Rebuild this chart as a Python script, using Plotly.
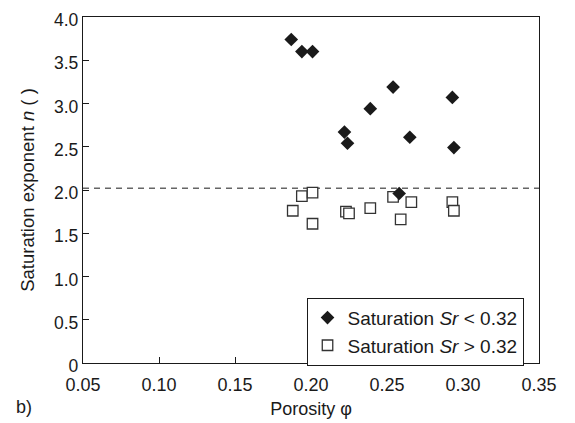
import plotly.graph_objects as go

# Porosity / saturation-exponent pairs, split by water saturation
porosity_low_sr = [0.187, 0.194, 0.201, 0.222, 0.224, 0.239, 0.254, 0.258, 0.265, 0.293, 0.294]
n_low_sr = [3.74, 3.60, 3.60, 2.67, 2.54, 2.94, 3.19, 1.96, 2.61, 3.07, 2.49]

porosity_high_sr = [0.188, 0.194, 0.201, 0.201, 0.223, 0.225, 0.239, 0.254, 0.259, 0.266, 0.293, 0.294]
n_high_sr = [1.76, 1.93, 1.97, 1.61, 1.75, 1.73, 1.79, 1.92, 1.66, 1.86, 1.86, 1.76]

n_reference = 2.02

x_ticks = [0.05, 0.10, 0.15, 0.20, 0.25, 0.30, 0.35]
y_ticks = [0, 0.5, 1.0, 1.5, 2.0, 2.5, 3.0, 3.5, 4.0]
y_tick_text = ["0", "0.5", "1.0", "1.5", "2.0", "2.5", "3.0", "3.5", "4.0"]

FONT = "Liberation Sans, Arial, Helvetica, sans-serif"
INK = "#1a1a1a"

fig = go.Figure()

fig.add_trace(go.Scatter(
    x=porosity_high_sr, y=n_high_sr, mode="markers",
    name="Saturation <i>Sr</i> > 0.32", legendrank=2,
    marker=dict(symbol="square", size=10.5, color="white",
                line=dict(color="#333333", width=1.3)),
))
fig.add_trace(go.Scatter(
    x=porosity_low_sr, y=n_low_sr, mode="markers",
    name="Saturation <i>Sr</i> < 0.32", legendrank=1,
    marker=dict(symbol="diamond", size=10.5, color=INK, line=dict(width=0)),
))

fig.add_shape(type="line", xref="paper", x0=0, x1=1, yref="y",
              y0=n_reference, y1=n_reference,
              line=dict(color="#666666", width=1.5, dash="6px,5px"), layer="below")

fig.add_annotation(text="b)", xref="paper", yref="paper", x=-0.152, y=-0.128,
                   xanchor="left", yanchor="middle", showarrow=False,
                   font=dict(family=FONT, size=18, color=INK))

axis_common = dict(
    showgrid=False, zeroline=False, showline=True, linecolor=INK, linewidth=1.3,
    mirror=True, ticks="inside", ticklen=6, tickwidth=1, tickcolor=INK,
    automargin=False,
)

fig.update_layout(
    width=575, height=423,
    margin=dict(l=83, r=36, t=17, b=60),
    paper_bgcolor="white", plot_bgcolor="white",
    font=dict(family=FONT, size=18, color=INK),
    xaxis=dict(range=[0.05, 0.35], tickvals=x_ticks, tickformat=".2f",
               ticklabelstandoff=5,
               tickfont=dict(family=FONT, size=18, color=INK),
               title=dict(text="Porosity \u03c6", standoff=8,
                          font=dict(family=FONT, size=18, color=INK)),
               **axis_common),
    yaxis=dict(range=[0, 4], tickvals=y_ticks, ticktext=y_tick_text,
               ticklabelshift=3,
               tickfont=dict(family=FONT, size=17.5, color=INK),
               title=dict(text="Saturation exponent <i>n</i> ( )", standoff=14,
                          font=dict(family=FONT, size=18.5, color=INK)),
               **axis_common),
    legend=dict(x=(524 - 83) / 456.5, y=(363.3 - 298) / 346, xanchor="right", yanchor="top",
                bordercolor=INK, borderwidth=1, bgcolor="white",
                font=dict(family=FONT, size=19, color=INK),
                itemwidth=30, tracegroupgap=0),
    showlegend=True,
)

fig.write_html("out.html")
